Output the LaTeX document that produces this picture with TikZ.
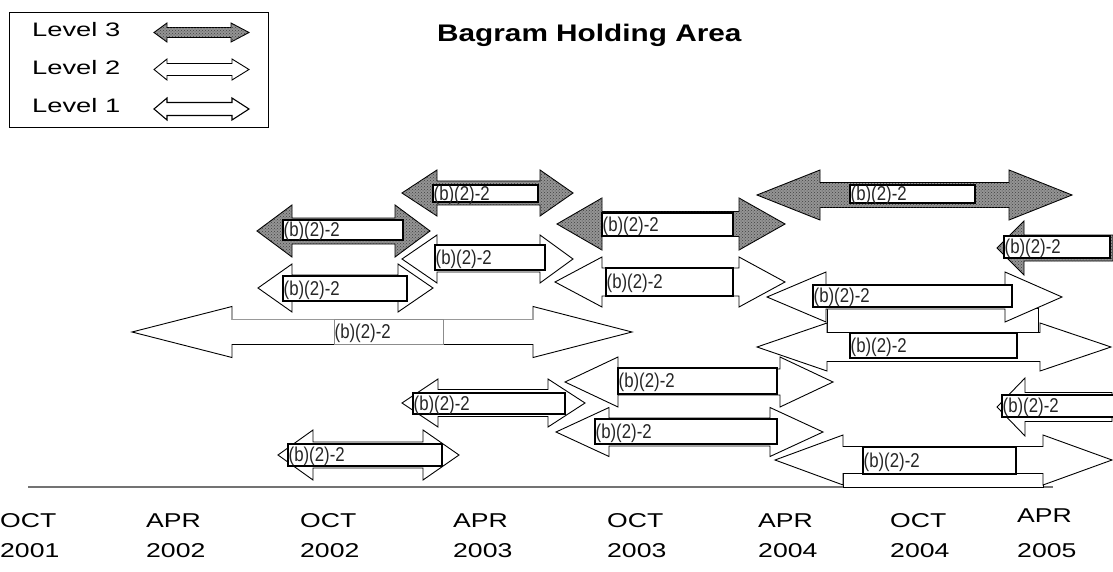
\documentclass[tikz,border=0pt]{standalone}
\usepackage{fontspec}
\setmainfont{Liberation Sans}
\newfontfamily\axisfont[FakeStretch=1.33]{Liberation Sans}
\newfontfamily\legfont[FakeStretch=1.4]{Liberation Sans}
\newfontfamily\titlefont[FakeStretch=1.24]{Liberation Sans}
\newfontfamily\boxfont[FakeStretch=0.84]{Liberation Sans}
\usetikzlibrary{patterns}
\tikzset{
  arrw/.style={draw=black, line width=0.9pt, fill=white, line join=miter},
  arrg/.style={arrw, fill=black!42, postaction={pattern=crosshatch dots, pattern color=black!75}},
  tboxst/.style={draw=black, line width=2.6pt, fill=white, inner sep=0pt, outer sep=0pt},
  tboxthin/.style={draw=black!45, line width=0.8pt, fill=white, inner sep=0pt, outer sep=0pt},
  blbl/.style={font=\boxfont\fontsize{20}{20}\selectfont, text=black!85, anchor=west, inner sep=0pt},
  axl/.style={font=\axisfont\fontsize{20}{20}\selectfont, anchor=base west, inner sep=0pt},
  legl/.style={font=\legfont\fontsize{19.5}{19.5}\selectfont, anchor=base west, inner sep=0pt},
}
% double arrow: style, L, HL, HR, R, C, H, S
\newcommand{\darr}[8]{%
  \draw[#1] (#2,#6) -- (#3,#6-#7) -- (#3,#6-#8) -- (#4,#6-#8) -- (#4,#6-#7) -- (#5,#6)
    -- (#4,#6+#7) -- (#4,#6+#8) -- (#3,#6+#8) -- (#3,#6+#7) -- cycle;}
% left arrow: style, L, HL, R, C, H, S
\newcommand{\larr}[7]{%
  \draw[#1] (#2,#5) -- (#3,#5-#6) -- (#3,#5-#7) -- (#4,#5-#7) -- (#4,#5+#7)
    -- (#3,#5+#7) -- (#3,#5+#6) -- cycle;}
% text box: style, name, x1, y1, x2, y2
\newcommand{\tbox}[6]{%
  \node[#1, minimum width={#5-#3}, minimum height={#6-#4}, anchor=north west] (#2) at (#3,#4) {};
  \node[blbl] (#2t) at ([xshift=0.5pt, yshift=-1.5pt]#2.west) {(b)(2)-2};}
\begin{document}
\begin{tikzpicture}[x=1pt, y=-1pt]
\useasboundingbox (0,0) rectangle (1113,572);
\fill[white] (0,0) rectangle (1113,572);

% legend
\node[draw=black, line width=1.2pt, minimum width=259, minimum height=115, anchor=north west, inner sep=0pt] (legend) at (9,12) {};
\node[legl] (lev3) at (32,37) {Level 3};
\node[legl] (lev2) at (32,75) {Level 2};
\node[legl] (lev1) at (32,113) {Level 1};
\darr{arrg}{154}{167}{231}{249}{32.5}{9.5}{5}
\darr{arrw}{154}{167}{232}{249}{69.5}{10.5}{6}
\darr{arrw, line width=1.1pt}{154}{167}{232}{249}{109}{11}{6.5}

% title
\node[anchor=base west, font=\titlefont\bfseries\fontsize{24}{24}\selectfont, inner sep=0pt] (title) at (437,42) {Bagram Holding Area};

% axis
\coordinate (ax0) at (28,487);
\coordinate (ax1) at (1053,487);
\draw[black!55, line width=1.3pt] (ax0) -- (ax1);
\foreach \m/\yr/\x/\ym [count=\i] in {OCT/2001/0/527, APR/2002/146/527, OCT/2002/300/527, APR/2003/453/527, OCT/2003/607/527, APR/2004/758/527, OCT/2004/890/527, APR/2005/1017/522}{
  \node[axl] (mon\i) at (\x,\ym) {\m};
  \node[axl] (yr\i) at (\x,557) {\yr};
}

% big arrow d
\darr{arrw}{132}{232}{533}{632}{332}{25.5}{12.5}
\draw[black!40, line width=0.8pt] (232,319.5) -- (533,319.5);
\tbox{tboxthin}{bd}{334}{319.5}{443}{344.5}

% white arrows
\darr{arrw}{258}{292}{398}{433}{288}{24}{13}
\tbox{tboxst}{ba}{283}{276}{407}{301}
\darr{arrw}{402}{437}{540}{573}{259}{24}{13}
\tbox{tboxst}{bb}{435}{245}{545}{270}
\darr{arrw}{555}{602}{739}{785}{282}{25}{14}
\tbox{tboxst}{bc}{606}{268}{733}{296}
\darr{arrw}{402}{438}{548}{585}{403}{24}{13.5}
\tbox{tboxst}{bh}{413}{393}{565}{414}
\darr{arrw}{278}{313}{423}{459}{455}{25}{13}
\tbox{tboxst}{bi}{288}{444}{442}{466}
\darr{arrw}{565}{618}{780}{833}{382}{25}{13}
\tbox{tboxst}{bj}{618}{368}{777}{394}
\darr{arrw}{556}{609}{770}{823}{432}{24.5}{14}
\tbox{tboxst}{bk}{595}{419}{777}{444}

% right group
\draw[arrw] (827,308) rectangle (1038,340);
\darr{arrw}{767}{826}{1005}{1062}{297}{25}{12}
\tbox{tboxst}{be}{813}{285}{1012}{307}
\darr{arrw}{757}{827}{1040}{1111}{347}{24}{14.5}
\tbox{tboxst}{bf}{850}{333}{1017}{358}
\draw[arrw] (843,473.5) rectangle (1043,487);
\darr{arrw}{775}{843}{1043}{1112}{460}{25}{13.5}
\tbox{tboxst}{bg}{863}{447}{1016}{474}
\larr{arrw}{997}{1025}{1112}{407}{29}{14.5}
\tbox{tboxst}{bl}{1002}{395}{1116}{417}

% gray arrows
\darr{arrg}{257}{292}{395}{430}{231}{26}{13}
\tbox{tboxst}{bA}{283}{220}{403}{240}
\darr{arrg}{402}{437}{540}{573}{193}{23}{12}
\tbox{tboxst}{bB}{433}{185}{538}{202}
\darr{arrg}{557}{602}{739}{785}{224}{26}{12.5}
\tbox{tboxst}{bC}{602}{213}{733}{236}
\darr{arrg}{757}{820}{1009}{1072}{195}{25}{12.5}
\tbox{tboxst}{bD}{850}{185}{975}{203}
\larr{arrg}{997}{1024}{1113}{248}{27}{13}
\tbox{tboxst}{bE}{1004}{236}{1110}{258}
\end{tikzpicture}
\end{document}
